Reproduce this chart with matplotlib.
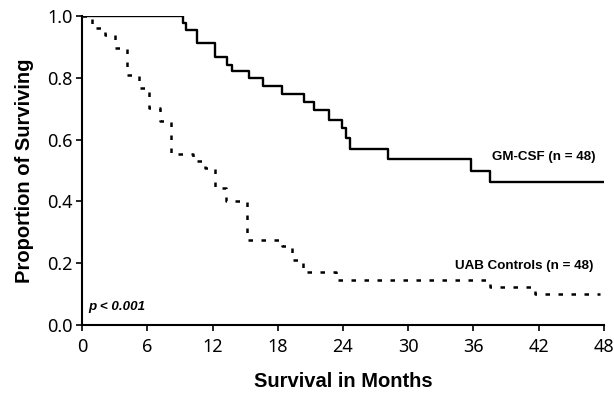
import matplotlib
matplotlib.use('Agg')
import matplotlib.pyplot as plt

# Kaplan-Meier step points
gm_months = [0, 9.3, 9.6, 10.6, 12.2, 13.3, 13.8, 15.4, 16.6, 18.4, 20.4, 21.3, 22.7, 23.9, 24.3, 24.6, 28.1, 35.8, 37.5, 48]
gm_surv = [1.0, 0.977, 0.955, 0.912, 0.869, 0.842, 0.823, 0.8, 0.775, 0.748, 0.722, 0.695, 0.665, 0.638, 0.605, 0.571, 0.538, 0.5, 0.462, 0.462]

uab_months = [0, 0.9, 2.1, 3.0, 4.1, 5.2, 6.2, 7.2, 8.2, 10.2, 11.3, 12.2, 13.2, 15.2, 18.4, 19.3, 20.3, 23.4, 37.5, 41.7, 47.6]
uab_surv = [1.0, 0.96, 0.94, 0.896, 0.81, 0.767, 0.702, 0.659, 0.552, 0.53, 0.509, 0.444, 0.401, 0.274, 0.255, 0.21, 0.17, 0.145, 0.122, 0.1, 0.1]

x_ticks = [0, 6, 12, 18, 24, 30, 36, 42, 48]
y_ticks = [0.0, 0.2, 0.4, 0.6, 0.8, 1.0]

fig = plt.figure(figsize=(6.14, 3.93), dpi=100)
ax = fig.add_axes([0.1336, 0.1730, 0.85, 0.7860])

ax.step(gm_months, gm_surv, where='post', color='black', lw=1.7)
ax.step(uab_months, uab_surv, where='post', color='black', lw=1.8, linestyle=(0, (1.8, 3.4)))

ax.set_xlim(0, 48)
ax.set_ylim(0, 1.0)
ax.set_xticks(x_ticks)
ax.set_yticks(y_ticks)
ax.set_yticklabels([f"{v:.1f}" for v in y_ticks])
ax.tick_params(direction='out', length=4, width=1.2, labelsize=13, pad=3)
ax.tick_params(axis='x', pad=5)
for lab in ax.get_xticklabels() + ax.get_yticklabels():
    lab.set_family('Noto Sans')

for side in ['top', 'right']:
    ax.spines[side].set_visible(False)
for side in ['left', 'bottom']:
    ax.spines[side].set_linewidth(1.5)

ax.set_xlabel('Survival in Months', fontsize=14.5, fontweight='bold', family='Liberation Sans', labelpad=12)
ax.set_ylabel('Proportion of Surviving', fontsize=14.5, fontweight='bold', family='Liberation Sans', labelpad=9)

ax.text(37.7, 0.545, 'GM-CSF (n = 48)', fontsize=9.6, fontweight='bold', family='Liberation Sans', va='center')
ax.text(34.3, 0.19, 'UAB Controls (n = 48)', fontsize=9.6, fontweight='bold', family='Liberation Sans', va='center')
ax.text(0.55, 0.058, 'p < 0.001', fontsize=9.6, fontweight='bold', style='italic', family='Liberation Sans', va='center')

fig.savefig('out.png', dpi=100)
